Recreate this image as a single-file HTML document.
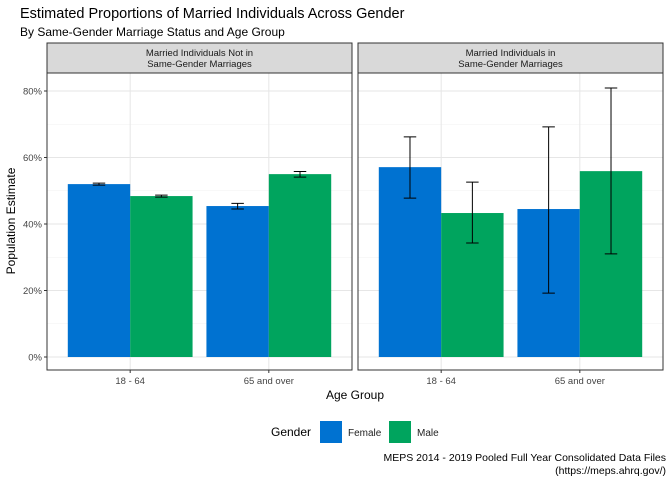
<!DOCTYPE html>
<html><head><meta charset="utf-8"><style>
body{margin:0;background:#fff;font-family:"Liberation Sans",Arial,sans-serif;}
</style></head><body>
<svg id="chart" width="672" height="480" xmlns="http://www.w3.org/2000/svg" font-family="Liberation Sans, Arial, sans-serif">
<rect width="672" height="480" fill="#fff"/>
<text x="20" y="18" font-size="14.5" fill="#000">Estimated Proportions of Married Individuals Across Gender</text>
<text x="20" y="36" font-size="12" fill="#000">By Same-Gender Marriage Status and Age Group</text>
<g id="plot"></g>
<text x="355" y="399" font-size="12" text-anchor="middle">Age Group</text>
<text transform="translate(15,221) rotate(-90)" font-size="12" text-anchor="middle">Population Estimate</text>
<g>
<text x="271" y="436" font-size="12">Gender</text>
<rect x="320" y="421" width="22" height="22" fill="#0072d1"/>
<text x="348" y="436" font-size="10" fill="#222">Female</text>
<rect x="389" y="421" width="22" height="22" fill="#00a45e"/>
<text x="417" y="436" font-size="10" fill="#222">Male</text>
</g>
<text x="666" y="461" font-size="10.5" text-anchor="end">MEPS 2014 - 2019 Pooled Full Year Consolidated Data Files</text>
<text x="666" y="474" font-size="10.5" text-anchor="end">(https://meps.ahrq.gov/)</text>
</svg>
<script>
const panels = ["Married Individuals Not in|Same-Gender Marriages", "Married Individuals in|Same-Gender Marriages"];
const categories = ["18 - 64", "65 and over"];
const genders = ["Female", "Male"];
const colors = ["#0072d1", "#00a45e"];
// values[panel][category][gender]
const values = [[[0.520, 0.484], [0.454, 0.550]], [[0.571, 0.433], [0.445, 0.559]]];
const lower = [[[0.517, 0.481], [0.445, 0.541]], [[0.478, 0.343], [0.192, 0.310]]];
const upper = [[[0.523, 0.487], [0.462, 0.558]], [[0.662, 0.526], [0.692, 0.809]]];
const yTicks = [0, 0.2, 0.4, 0.6, 0.8];
const yTickLabels = ["0%", "20%", "40%", "60%", "80%"];

const NS = "http://www.w3.org/2000/svg";
const g = document.getElementById("plot");
function mk(tag, attrs, parent) { const e = document.createElementNS(NS, tag); for (const k in attrs) e.setAttribute(k, attrs[k]); (parent || g).appendChild(e); return e; }
const pTop = 73, pBot = 370, y0 = 357, y80 = 91;
const y = v => y0 - v / 0.8 * (y0 - y80);
const panelX = [47, 358], panelW = 305;
panels.forEach((pn, pi) => {
  const px = panelX[pi];
  const unit = panelW / 2.2;
  const xc = c => px + (0.6 + c) * unit;
  const pg = mk("g", {});
  
  
  mk("rect", { x: px, y: pTop, width: panelW, height: pBot - pTop, fill: "#fff" }, pg);
  // grid minor
  for (let v = 0.1; v < 0.95; v += 0.2) mk("line", { x1: px, x2: px + panelW, y1: y(v), y2: y(v), stroke: "#f0f0f0", "stroke-width": 0.6 }, pg);
  yTicks.forEach(v => mk("line", { x1: px, x2: px + panelW, y1: y(v), y2: y(v), stroke: "#e6e6e6", "stroke-width": 1 }, pg));
  categories.forEach((c, ci) => mk("line", { x1: xc(ci), x2: xc(ci), y1: pTop, y2: pBot, stroke: "#e6e6e6", "stroke-width": 1 }, pg));
  const bw = 0.45 * unit;
  categories.forEach((c, ci) => {
    genders.forEach((gn, gi) => {
      const x = xc(ci) - 2 * bw / 2 * 1 + gi * bw;
      const b = mk("rect", { x: x, y: y(values[pi][ci][gi]), width: bw, height: y(0) - y(values[pi][ci][gi]), fill: colors[gi] }, pg);
      
      
      const cx = x + bw / 2, hw = bw * 0.1;
      const eb = mk("path", { d: `M${cx - hw},${y(upper[pi][ci][gi])}H${cx + hw}M${cx},${y(upper[pi][ci][gi])}V${y(lower[pi][ci][gi])}M${cx - hw},${y(lower[pi][ci][gi])}H${cx + hw}`, stroke: "#000", fill: "none", "stroke-width": 1 }, pg);
      
      
    });
    const t = mk("text", { x: xc(ci), y: 384, "font-size": 9.5, fill: "#444", "text-anchor": "middle" }, pg);
    t.textContent = c;
    
    
    mk("line", { x1: xc(ci), x2: xc(ci), y1: pBot, y2: pBot + 3, stroke: "#333" }, pg);
  });
  mk("rect", { x: px, y: pTop, width: panelW, height: pBot - pTop, fill: "none", stroke: "#333", "stroke-width": 1 }, pg);
  const st = mk("rect", { x: px, y: 43, width: panelW, height: pTop - 43, fill: "#d9d9d9", stroke: "#333", "stroke-width": 1 }, pg);
  
  
  pn.split("|").forEach((ln, li) => {
    const t = mk("text", { x: px + panelW / 2, y: 56 + li * 11, "font-size": 9.5, fill: "#1a1a1a", "text-anchor": "middle" }, pg);
    t.textContent = ln;
    
    
  });
});
yTicks.forEach((v, i) => {
  mk("line", { x1: 44, x2: 47, y1: y(v), y2: y(v), stroke: "#333" });
  const t = mk("text", { x: 42, y: y(v) + 3.5, "font-size": 9.5, fill: "#444", "text-anchor": "end" });
  t.textContent = yTickLabels[i];
  
  
});
</script>
</body></html>
